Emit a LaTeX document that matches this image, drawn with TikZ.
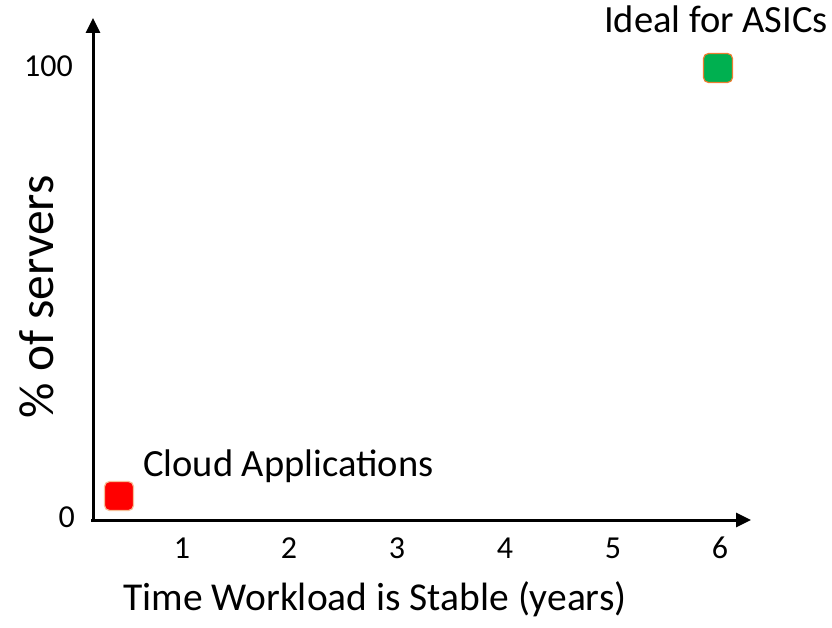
\documentclass[tikz,border=0pt]{standalone}
\usepackage{fontspec}
\setmainfont{Carlito}
\usetikzlibrary{arrows.meta}
\definecolor{ppgreen}{RGB}{0,176,80}
\definecolor{pporange}{RGB}{237,125,49}
\definecolor{ppred}{RGB}{255,0,0}
\begin{document}
\begin{tikzpicture}[x=1pt,y=-1pt,
  axis/.style={line width=3pt,-{Triangle[length=15pt,width=14pt]}},
  lbl/.style={inner sep=0pt,font=\fontsize{38.5}{42}\selectfont},
  tick/.style={inner sep=0pt,anchor=base,font=\fontsize{32}{35}\selectfont},
  marker/.style={minimum size=29pt,inner sep=0pt,rounded corners=5pt,line width=1.2pt}]
\useasboundingbox (0,0) rectangle (832,628);
\coordinate (origin) at (93,520);
\coordinate (ytail) at (93,522);
\coordinate (ytip) at (93,18);
\coordinate (xtail) at (91,520);
\coordinate (xtip) at (751,520);
\draw[axis] (ytail) -- (ytip);
\draw[axis] (xtail) -- (xtip);
\node[tick] (t1) at (182,558) {1};
\node[tick] (t2) at (289,558) {2};
\node[tick] (t3) at (397,558) {3};
\node[tick] (t4) at (505,558) {4};
\node[tick] (t5) at (613,558) {5};
\node[tick] (t6) at (720,558) {6};
\node[tick,anchor=base east] (y100) at (73,77) {100};
\node[tick,anchor=base east] (y0) at (75,527) {0};
\node[lbl,anchor=base,font=\fontsize{39.5}{42}\selectfont] (xlabel) at (375,610) {Time Workload is Stable (years)};
\node[lbl,rotate=90,font=\fontsize{49.5}{53}\selectfont] (ylabel) at (37,297) {\% of servers};
\node[marker,draw=pporange,fill=ppgreen] (asic) at (718,68) {};
\node[marker,draw=pporange!50,fill=ppred] (cloud) at (119,496) {};
\node[lbl,anchor=base east] (asiclbl) at (828,33) {Ideal for ASICs};
\node[lbl,anchor=base west] (cloudlbl) at (143,476) {Cloud Applications};
\end{tikzpicture}
\end{document}
